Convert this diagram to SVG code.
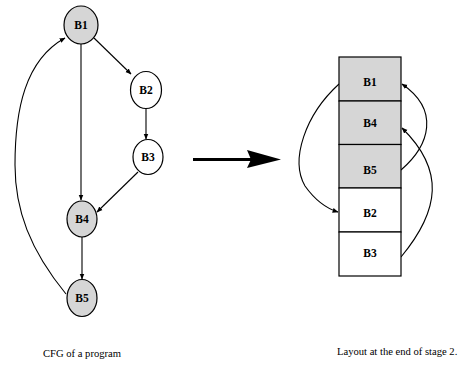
<svg xmlns="http://www.w3.org/2000/svg" width="460" height="367" viewBox="0 0 460 367">
<style>
.node ellipse{stroke:#000;stroke-width:1.2}
.sh{fill:#d6d6d6}
.wh{fill:#fff}
.lbl{font-family:"Liberation Serif",serif;font-weight:bold;font-size:11.5px;text-anchor:middle}
.cap{font-family:"Liberation Serif",serif;font-size:10.6px}
.edge{fill:none;stroke:#000;stroke-width:1.1;marker-end:url(#ah)}
.box rect{stroke:#000;stroke-width:1.2}
</style>
<defs>
<marker id="ah" viewBox="0 0 10 10" refX="9" refY="5" markerWidth="6" markerHeight="6" orient="auto" markerUnits="userSpaceOnUse">
<path d="M0,1 L10,5 L0,9 Z" fill="#000"/>
</marker>
</defs>
<rect width="460" height="367" fill="#fff"/>
<g id="connectors">
<path class="edge" d="M81,44 L81,200"/>
<path class="edge" d="M94,38 L131,74"/>
<path class="edge" d="M146,108 L146,139"/>
<path class="edge" d="M138,172 L97,212"/>
<path class="edge" d="M82,237 L82,279"/>
<path class="edge" d="M66,294 C30,250 15,210 15,165 C15,110 25,60 65,38"/>
<path class="edge" d="M339,84 C305,115 290,160 305,186 C315,200 325,208 338,212"/>
<path class="edge" d="M401,170 C430,145 440,110 402,84"/>
<path class="edge" d="M401,257 C440,210 445,170 402,128"/>
<path d="M193,159.5 L252,159.5" stroke="#000" stroke-width="3" fill="none"/>
<path d="M281,159.5 L247,150 L251,159.5 L247,168 Z" fill="#000"/>
</g>
<g id="n-B1" class="node"><ellipse class="sh" cx="81" cy="25" rx="17" ry="19"/><text class="lbl" x="81" y="29">B1</text></g>
<g id="n-B2" class="node"><ellipse class="wh" cx="146" cy="90" rx="15.5" ry="18.5"/><text class="lbl" x="146" y="94">B2</text></g>
<g id="n-B3" class="node"><ellipse class="wh" cx="148" cy="157" rx="15" ry="17.5"/><text class="lbl" x="148" y="161">B3</text></g>
<g id="n-B4" class="node"><ellipse class="sh" cx="82" cy="219" rx="15" ry="18"/><text class="lbl" x="82" y="223">B4</text></g>
<g id="n-B5" class="node"><ellipse class="sh" cx="82" cy="298" rx="15" ry="18.5"/><text class="lbl" x="82" y="302">B5</text></g>
<g id="l-B1" class="box"><rect class="sh" x="339" y="57" width="62" height="44"/><text class="lbl" x="370" y="86">B1</text></g>
<g id="l-B4" class="box"><rect class="sh" x="339" y="101" width="62" height="43.5"/><text class="lbl" x="370" y="127">B4</text></g>
<g id="l-B5" class="box"><rect class="sh" x="339" y="144.5" width="62" height="43.5"/><text class="lbl" x="370" y="174">B5</text></g>
<g id="l-B2" class="box"><rect class="wh" x="339" y="188" width="62" height="44"/><text class="lbl" x="370" y="217">B2</text></g>
<g id="l-B3" class="box"><rect class="wh" x="339" y="232" width="62" height="44"/><text class="lbl" x="370" y="257">B3</text></g>
<text class="cap" x="43" y="357">CFG of a program</text>
<text class="cap" x="337" y="355">Layout at the end of stage 2.</text>
</svg>
